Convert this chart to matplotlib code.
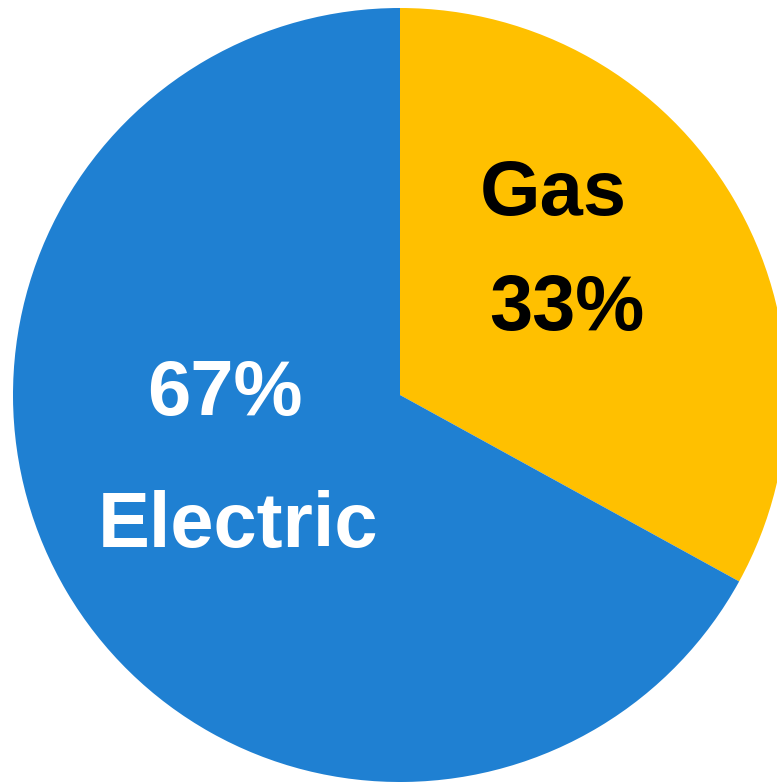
import matplotlib
matplotlib.use('Agg')
import matplotlib.pyplot as plt

# Share of heating type
labels = ['Gas', 'Electric']
shares = [33, 67]
colors = ['#FFC000', '#1F80D2']
text_colors = ['black', 'white']

fig = plt.figure(figsize=(7.77, 7.82), dpi=100)
ax = fig.add_axes([0, 0, 1, 1])

r_px = 387.0
cx, cy = 400.0, 395.0
ax.pie(shares, colors=colors, startangle=90, counterclock=False,
       radius=1.0, wedgeprops=dict(linewidth=0))

ax.set_xlim(-cx / r_px, (777 - cx) / r_px)
ax.set_ylim(-(782 - cy) / r_px, cy / r_px)
ax.set_aspect('auto')
ax.axis('off')

font = dict(family=['Liberation Sans', 'DejaVu Sans'], fontweight='bold', fontsize=56)

# Gas: name above percent
ax.text(0.395, 0.517, labels[0], color=text_colors[0], ha='center', va='center', **font)
ax.text(0.43, 0.22, f'{shares[0]}%', color=text_colors[0], ha='center', va='center', **font)
# Electric: percent above name
ax.text(-0.452, 0.0, f'{shares[1]}%', color=text_colors[1], ha='center', va='center', **font)
ax.text(-0.418, -0.341, labels[1], color=text_colors[1], ha='center', va='center', **font)

fig.savefig('out.png', dpi=100)
